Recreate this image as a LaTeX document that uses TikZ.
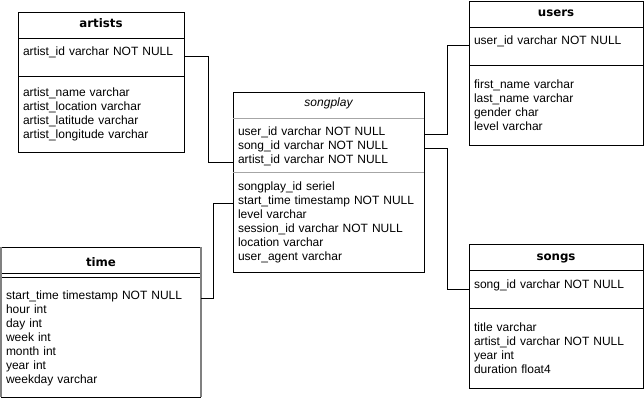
\documentclass[tikz,border=0pt]{standalone}
\usepackage{fontspec}
\setmainfont{Liberation Sans}
\newfontfamily\headfont{DejaVu Sans}
\usetikzlibrary{positioning}
\begin{document}
\begin{tikzpicture}
    [
    x = 1pt, y = -1pt,
    every node/.style = {font=\fontsize{12}{14}\selectfont, inner xsep=5pt, inner ysep=0pt, outer sep=0pt},
    ]
    \tikzstyle{table head}=[draw, align=center, minimum height=26pt, text height=9pt, text depth=3pt, font=\headfont\bfseries\fontsize{11.8}{14}\selectfont]
    \tikzstyle{key part}=[draw, align=left, minimum height=38pt, text height=9pt, text depth=11pt]
    \tikzstyle{attr part}=[draw, align=left, minimum height=80pt]
    \tikzstyle{row}=[align=left, minimum height=14pt, text height=8pt, text depth=6pt]
    \tikzstyle{rows}=[align=left]
    \tikzstyle{grey line}=[draw=black!35]
    \tikzstyle{grey side}=[draw=black!50, line width=2pt]
    \tikzstyle{link}=[draw=black, line width=1pt]

    \useasboundingbox (0,0) rectangle (644,401);

    % artists
    \node[table head, text width=156pt] (artists) at (101,25) {artists};
    \node[key part, text width=156pt, below=0pt of artists] (artists key) {artist\_id varchar NOT NULL};
    \node[attr part, text width=156pt, minimum height=76pt, below=0pt of artists key] (artists attr)
        {artist\_name varchar\\artist\_location varchar\\artist\_latitude varchar\\artist\_longitude varchar};

    % users
    \node[table head, text width=164pt] (users) at (556,14) {users};
    \node[key part, text width=164pt, below=0pt of users] (users key) {user\_id varchar NOT NULL};
    \node[attr part, text width=164pt, below=0pt of users key] (users attr)
        {first\_name varchar\\last\_name varchar\\gender char\\level varchar};

    % songs
    \node[table head, text width=164pt] (songs) at (556,257) {songs};
    \node[key part, text width=164pt, below=0pt of songs] (songs key) {song\_id varchar NOT NULL};
    \node[attr part, text width=164pt, below=0pt of songs key] (songs attr)
        {title varchar\\artist\_id varchar NOT NULL\\year int\\duration float4};

    % songplay
    \node[minimum width=191pt, minimum height=26pt, text height=9pt, text depth=6pt, font=\itshape\fontsize{12}{14}\selectfont] (songplay) at (328.5,105) {songplay};
    \node[minimum width=191pt, minimum height=54pt, below=0pt of songplay] (sp keys) {};
    \node[minimum width=191pt, minimum height=100pt, below=0pt of sp keys] (sp attrs) {};
    \draw (songplay.north west) rectangle (sp attrs.south east);
    \draw[grey line] (songplay.south west) -- (songplay.south east);
    \draw[grey line] (sp keys.south west) -- (sp keys.south east);
    \node[row, text width=181pt, below=9pt of songplay] (sp user) {user\_id varchar NOT NULL};
    \node[row, text width=181pt, below=0pt of sp user] (sp song) {song\_id varchar NOT NULL};
    \node[row, text width=181pt, below=0pt of sp song] (sp artist) {artist\_id varchar NOT NULL};
    \node[row, text width=181pt, below=10pt of sp keys] (sp id) {songplay\_id seriel};
    \node[row, text width=181pt, below=0pt of sp id] (sp start) {start\_time timestamp NOT NULL};
    \node[rows, text width=181pt, below=0pt of sp start] (sp rest)
        {level varchar\\session\_id varchar NOT NULL\\location varchar\\user\_agent varchar};

    % time
    \node[table head, draw=none, text width=190pt, text height=12pt, text depth=0pt] (time) at (101,260) {time};
    \node[minimum width=200pt, minimum height=120pt, below=4pt of time] (time attr) {};
    \draw (time.north west) -- (time.north east);
    \draw (time.south west) -- (time.south east);
    \draw (time attr.north west) -- (time attr.north east);
    \draw (time attr.south west) -- (time attr.south east);
    \draw[grey side] (time.north west) -- (time attr.south west);
    \draw[grey side] (time.north east) -- (time attr.south east);
    \node[row, text width=190pt, below=18pt of time] (time start) {start\_time timestamp NOT NULL};
    \node[rows, text width=190pt, below=0pt of time start] (time rest)
        {hour int\\day int\\week int\\month int\\year int\\weekday varchar};

    % links
    \draw[link] (artists key.east) -- ++(24,0) |- (sp artist.west);
    \draw[link] (time start.east) -- ++(12,0) |- (sp start.west);
    \draw[link] (sp user.east) -- ++(23,0) |- (users key.west);
    \draw[link] (sp song.east) -- ++(23,0) |- (songs key.west);
\end{tikzpicture}
\end{document}
